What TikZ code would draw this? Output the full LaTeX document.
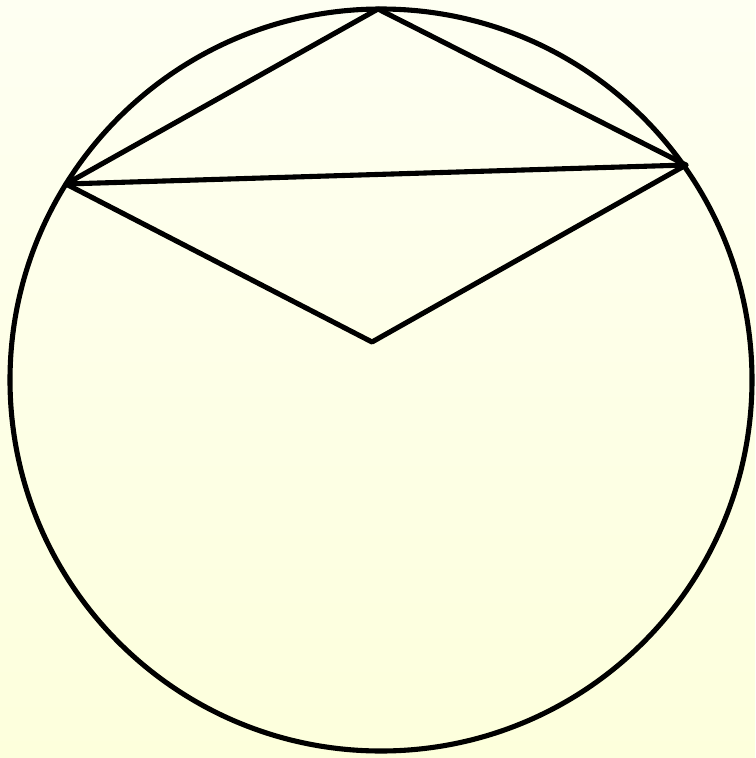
\documentclass[tikz,border=0pt]{standalone}
\usepackage{tikz}
\definecolor{paletop}{RGB}{254,255,242}
\definecolor{palebottom}{RGB}{253,255,220}
\tikzset{
	chord/.style={draw=black, line width=2.9pt, line join=round, line cap=round},
}
\begin{document}
\begin{tikzpicture}[x=0.02cm, y=-0.02cm]
	% background
	\shade[top color=paletop, bottom color=palebottom] (0,0) rectangle (755,758);
	\useasboundingbox (0,0) rectangle (755,758);
	% circle
	\coordinate (O) at (381,380);
	\draw[chord] (O) circle[radius=371];
	% points on the figure
	\coordinate (A) at (378,9);
	\coordinate (B) at (686,165);
	\coordinate (C) at (66,184);
	\coordinate (D) at (372,342);
	\draw[chord] (C) -- (A) -- (B) -- cycle;
	\draw[chord] (C) -- (D) -- (B);
\end{tikzpicture}
\end{document}
